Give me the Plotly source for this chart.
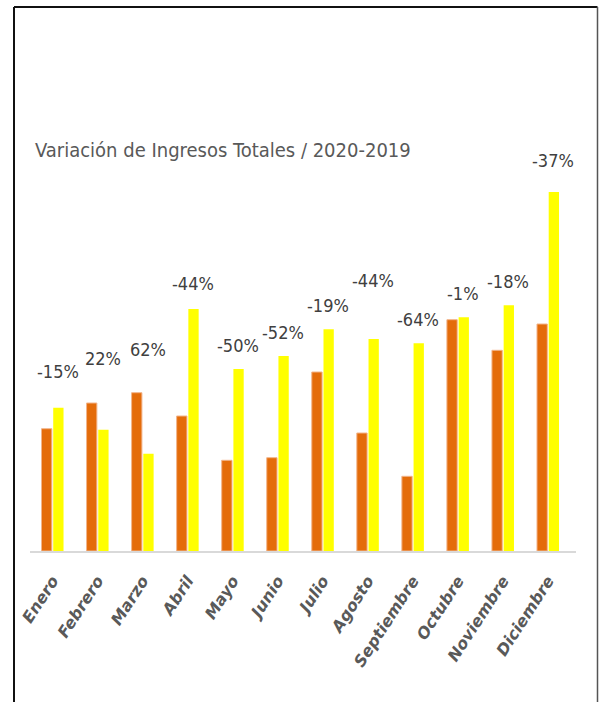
import plotly.graph_objects as go

# Data (bar heights, arbitrary units)
months = ["Enero", "Febrero", "Marzo", "Abril", "Mayo", "Junio", "Julio",
          "Agosto", "Septiembre", "Octubre", "Noviembre", "Diciembre"]
ingresos_2020 = [122.3, 148.0, 158.3, 135.0, 90.7, 93.3, 179.0, 118.0, 74.7, 231.3, 200.7, 227.0]
ingresos_2019 = [143.3, 121.3, 97.3, 242.0, 182.0, 195.0, 221.7, 212.0, 207.7, 233.7, 245.7, 359.0]
variacion = ["-15%", "22%", "62%", "-44%", "-50%", "-52%", "-19%", "-44%", "-64%", "-1%", "-18%", "-37%"]

# extra lift (px) of some labels, hand-placed in the original
label_lift = [12, 21, 19, 2, 0, 0, 0, 35, 0, 0, 0, 8]

NARROW = "DejaVu Sans Condensed, Liberation Sans Narrow, sans-serif"

fig = go.Figure()
fig.add_trace(go.Bar(
    x=months, y=ingresos_2020, name="2020",
    marker=dict(color="#E46C0A", line=dict(color="#F2B48A", width=1)),
    hoverinfo="x+y",
))
fig.add_trace(go.Bar(
    x=months, y=ingresos_2019, name="2019",
    marker=dict(color="#FFFF00", line=dict(width=0)),
    hoverinfo="x+y",
))

# percentage labels above each month pair
for m, a, b, txt, lift in zip(months, ingresos_2020, ingresos_2019, variacion, label_lift):
    fig.add_annotation(
        x=m, y=max(a, b) + 24, xref="x", yref="y",
        text=txt, showarrow=False,
        xshift=5, yshift=lift, yanchor="middle",
        font=dict(family=NARROW, size=18, color="#404040"),
    )

# frame around the chart (top, left, right)
top = 1 + 143 / 401
left = -16 / 546
right = 1 + 21.5 / 546
fig.add_shape(type="line", xref="paper", yref="paper",
              x0=left, x1=left, y0=-0.5, y1=top,
              line=dict(color="#111", width=2))
fig.add_shape(type="line", xref="paper", yref="paper",
              x0=left, x1=right, y0=top, y1=top,
              line=dict(color="#111", width=2))
fig.add_shape(type="line", xref="paper", yref="paper",
              x0=right, x1=right, y0=-0.5, y1=top,
              line=dict(color="#555", width=1.5))

fig.update_layout(
    title=dict(
        text="Variación de Ingresos Totales / 2020-2019",
        x=35 / 599, xanchor="left", xref="container",
        y=1 - 150 / 702, yanchor="middle", yref="container",
        font=dict(family=NARROW, size=20, color="#595959"),
    ),
    barmode="group",
    bargap=0.48,
    bargroupgap=0.12,
    xaxis=dict(
        showgrid=False, zeroline=False,
        showline=True, linecolor="#D9D9D9", linewidth=2,
        ticks="", tickangle=-57, ticklabelstandoff=12,
        tickfont=dict(family="DejaVu Sans", size=16, color="#595959",
                      weight="bold", style="italic"),
    ),
    yaxis=dict(range=[0, 401], showgrid=False, zeroline=False,
               showticklabels=False, showline=False),
    plot_bgcolor="white",
    paper_bgcolor="white",
    showlegend=False,
    width=599, height=702,
    margin=dict(l=30, r=23, t=150, b=151),
)

fig.write_html("out.html", config={"displayModeBar": False},
               post_script="document.body.style.margin='0';document.body.style.overflow='hidden';")
